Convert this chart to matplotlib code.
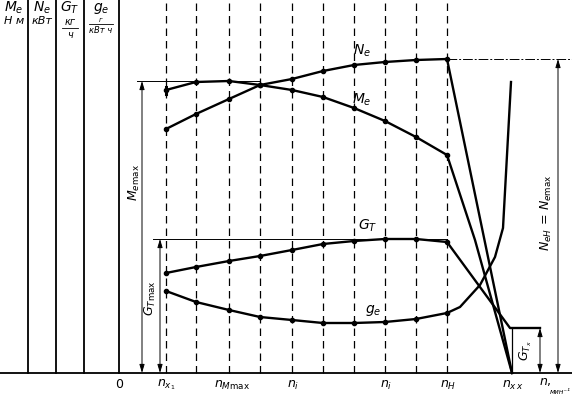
import matplotlib
matplotlib.use("Agg")
import matplotlib.pyplot as plt

# Speed positions (dashed verticals), chart units = px from left edge
n_points = [166, 196, 229, 260, 292, 323, 354, 385, 416, 447]
n_idle = 512          # n_xx, all curves drop to here
# Curve heights above the n-axis (chart units)
Ne = [244, 259, 274, 288, 294, 302, 308, 311, 313, 314]
Me = [283, 291, 292, 288, 283, 276, 265, 252, 236, 218]
GT = [100, 106, 112, 117, 123, 129, 132, 134, 134, 131]
ge = [82, 71, 63, 56, 53, 50, 50, 51, 54, 60]
# Regulator branch (beyond n_H)
Me_reg_n, Me_reg = [447, 475, 512], [218, 133, 0]
GT_reg_n, GT_reg = [447, 510, 540], [131, 45, 45]
ge_reg_n = [447, 460, 480, 495, 503, 511]
ge_reg = [60, 66, 88, 116, 145, 291]

axis_x = [28, 56, 84, 119]
n_labels = [(120, "$0$"), (166, "$n_{x_1}$"), (232, "$n_{M\\max}$"), (293, "$n_i$"),
            (386, "$n_i$"), (448, "$n_H$"), (513, "$n_{x\\,x}$")]

fig = plt.figure(figsize=(5.72, 3.94), dpi=100)
ax = fig.add_axes([0, 0, 1, 1])
ax.set_xlim(0, 572)
ax.set_ylim(-21, 373)
ax.axis("off")

lw = 1.7
# left value axes and baseline
for x in axis_x:
    ax.plot([x, x], [0, 373], color="black", lw=1.3)
ax.plot([0, 572], [0, 0], color="black", lw=1.3)

# dashed speed lines
for x in n_points:
    ax.plot([x, x], [0, 373], color="black", lw=0.9, ls=(0, (6, 4)))
ax.plot([n_idle, n_idle], [0, 45], color="black", lw=0.9)

# reference lines
ax.plot([137, 260], [max(Me), max(Me)], color="black", lw=0.7)
ax.plot([153, 447], [max(GT), max(GT)], color="black", lw=0.7)
ax.plot([447, 572], [max(Ne), max(Ne)], color="black", lw=0.7, ls=(0, (10, 2, 2, 2)))

# curves
for y in (Ne, Me, GT, ge):
    ax.plot(n_points, y, color="black", lw=lw, marker="o", ms=3)
ax.plot([n_points[-1], n_idle], [Ne[-1], 0], color="black", lw=lw)
ax.plot(Me_reg_n, Me_reg, color="black", lw=lw)
ax.plot(GT_reg_n, GT_reg, color="black", lw=lw)
ax.plot(ge_reg_n, ge_reg, color="black", lw=lw)
ax.plot([166, 166], [Me[0] - 4, Me[0] + 3], color="black", lw=2.2)

# dimension arrows
arr = dict(arrowstyle="<|-|>,head_length=0.5,head_width=0.15", color="black", lw=0.7,
           shrinkA=0, shrinkB=0)
ax.annotate("", xy=(142, 0), xytext=(142, max(Me)), arrowprops=arr)
ax.annotate("", xy=(160, 0), xytext=(160, max(GT)), arrowprops=arr)
ax.annotate("", xy=(558, 0), xytext=(558, max(Ne)), arrowprops=arr)
ax.annotate("", xy=(540, 0), xytext=(540, 45), arrowprops=arr)

# labels
fs = 10
ax.text(362, 322, "$N_e$", fontsize=fs, ha="center", va="center")
ax.text(362, 273, "$M_e$", fontsize=fs, ha="center", va="center")
ax.text(368, 147, "$G_T$", fontsize=fs, ha="center", va="center")
ax.text(373, 63, "$g_e$", fontsize=fs, ha="center", va="center")
ax.text(134, 190, "$M_{e\\max}$", fontsize=9, rotation=90, ha="center", va="center")
ax.text(150, 75, "$G_{T\\max}$", fontsize=9, rotation=90, ha="center", va="center")
ax.text(546, 160, "$N_{eH}\\,=\\,N_{e\\max}$", fontsize=9, rotation=90, ha="center", va="center")
ax.text(526, 22, "$G_{T_x}$", fontsize=9, rotation=90, ha="center", va="center")

for x, s in n_labels:
    ax.text(x, -12, s, fontsize=9, ha="center", va="center")
ax.text(545, -9, "$n,$", fontsize=9, ha="center", va="center")
ax.text(571, -19, "мин⁻¹", fontsize=5, style="italic", ha="right", va="center")

# axis headers
ax.text(14, 365, "$M_e$", fontsize=10, ha="center", va="center")
ax.text(14, 352, "Н м", fontsize=8, style="italic", ha="center", va="center")
ax.text(42, 365, "$N_e$", fontsize=10, ha="center", va="center")
ax.text(42, 352, "кВт", fontsize=8, style="italic", ha="center", va="center")
ax.text(70, 365, "$G_T$", fontsize=10, ha="center", va="center")
ax.text(70, 351, "кг", fontsize=7, style="italic", ha="center", va="center")
ax.plot([62, 78], [345, 345], color="black", lw=0.6)
ax.text(70, 338, "ч", fontsize=7, style="italic", ha="center", va="center")
ax.text(101, 365, "$g_e$", fontsize=10, ha="center", va="center")
ax.text(101, 353, "г", fontsize=5, style="italic", ha="center", va="center")
ax.plot([89, 113], [349, 349], color="black", lw=0.6)
ax.text(101, 343, "кВт ч", fontsize=6, style="italic", ha="center", va="center")

fig.savefig("out.png", dpi=100)
